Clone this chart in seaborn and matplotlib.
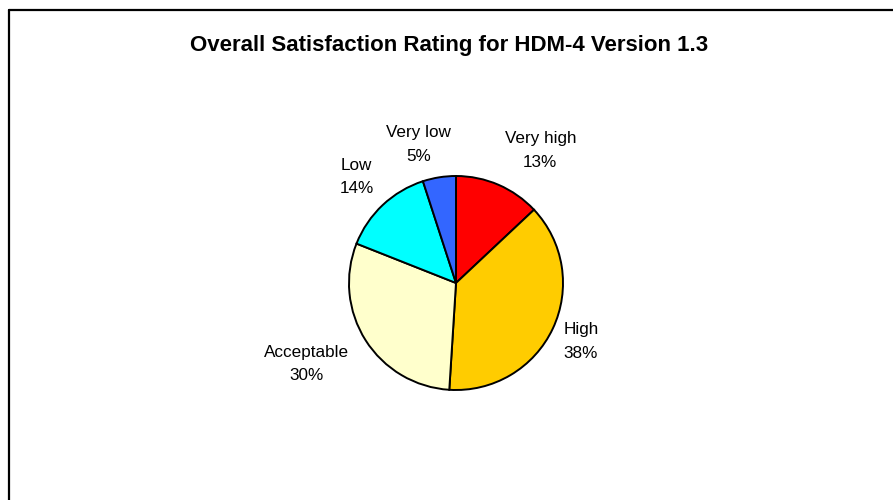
import numpy as np
import matplotlib
matplotlib.use("Agg")
import matplotlib.pyplot as plt
import seaborn as sns
from matplotlib.lines import Line2D

categories = ["Very high", "High", "Acceptable", "Low", "Very low"]
values = [13, 38, 30, 14, 5]
colors = ["#FF0000", "#FFCC00", "#FFFFCC", "#00FFFF", "#3366FF"]
title = "Overall Satisfaction Rating for HDM-4 Version 1.3"

sns.set_style("white")
plt.rcParams["font.family"] = ["Liberation Sans", "DejaVu Sans"]
plt.rcParams["text.color"] = "black"

W, H = 893, 500
fig = plt.figure(figsize=(W / 100, H / 100), dpi=100)

# pie axes: center at (456, 283) px from top, radius 107 px
cx, cy, r = 456, 283, 107
S = 200
ax = fig.add_axes([(cx - S) / W, (H - cy - S) / H, 2 * S / W, 2 * S / H])
R = S / r
wedges, _ = ax.pie(values, colors=colors, startangle=90, counterclock=False,
                   radius=1.0,
                   wedgeprops=dict(edgecolor="black", linewidth=1.4))
ax.set_xlim(-R, R)
ax.set_ylim(-R, R)
ax.set_aspect("equal")
ax.axis("off")

# label placement (distance in radii, angle tweak in degrees)
label_dist = [1.47, 1.29, 1.59, 1.36, 1.34]
label_dang = [-9, 0, -4, 0, 6]
total = sum(values)
for w, cat, v, d, da in zip(wedges, categories, values, label_dist, label_dang):
    th = np.deg2rad((w.theta1 + w.theta2) / 2 + da)
    ax.text(d * np.cos(th), d * np.sin(th), f"{cat}\n{round(100 * v / total)}%",
            ha="center", va="center", fontsize=12.3, linespacing=1.72,
            color="black")

fig.text(449 / W, 1 - 45 / H, title, ha="center", va="center",
         fontsize=16, fontweight="bold", color="black")

# chart frame (left and top edges visible)
lw = 1.6
fig.add_artist(Line2D([9 / W, 9 / W], [0, 1 - 9.5 / H], transform=fig.transFigure,
                      color="black", linewidth=lw))
fig.add_artist(Line2D([9 / W, 1], [1 - 9.5 / H, 1 - 9.5 / H], transform=fig.transFigure,
                      color="black", linewidth=lw))

fig.savefig("out.png", dpi=100, facecolor="white")
